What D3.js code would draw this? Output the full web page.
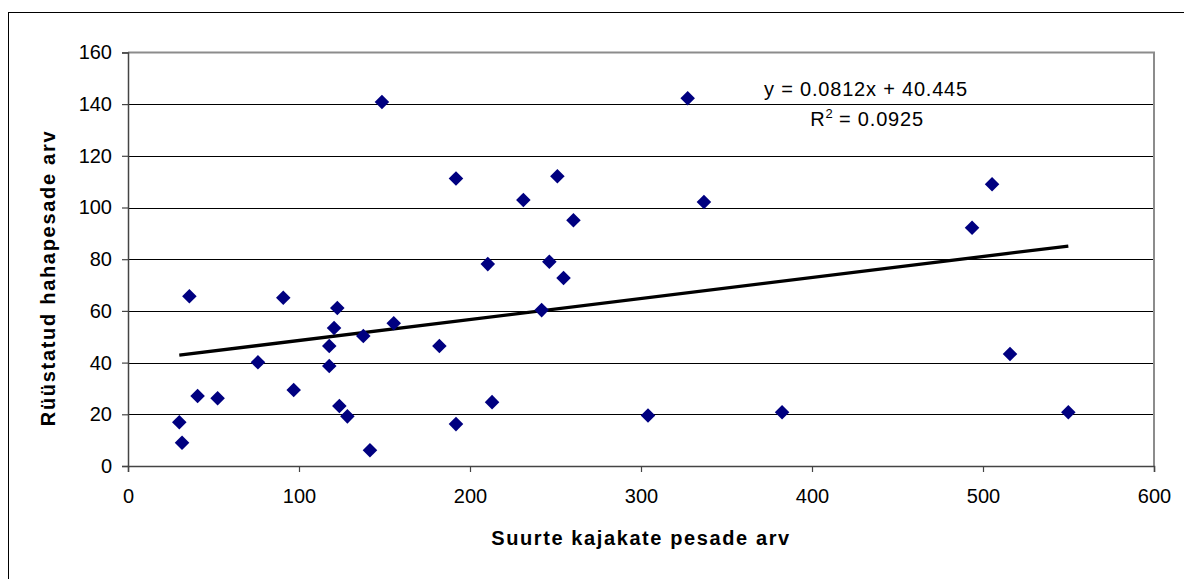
<!DOCTYPE html>
<html>
<head>
<meta charset="utf-8">
<script src="https://cdn.jsdelivr.net/npm/d3@7"></script>
<style>
    html, body { margin: 0; padding: 0; background: #fff; }
    svg { display: block; font-family: "Liberation Sans", Arial, sans-serif; }
    .tick text { font-size: 20px; fill: #000; }
</style>
</head>
<body>
<div id="chart"></div>
<script>
    "use strict"

    // x: large gull nests, y: plundered eider nests
    var gullNests  = [30, 31.6, 35.9, 40.7, 52.4, 76, 90.8, 96.9, 117.7, 117.7, 120.5, 122.4, 123.6, 128.3,
                      137.6, 141.5, 148.5, 155.4, 182.1, 191.8, 191.8, 210.4, 212.9, 231.2, 241.9, 246.4,
                      251.1, 254.7, 260.5, 304.1, 327.3, 336.8, 382.5, 493.6, 505.3, 515.8, 549.9]
    var eiderNests = [16.9, 9.0, 65.7, 27.1, 26.2, 40.1, 65.1, 29.4, 46.4, 38.7, 53.4, 61.1, 23.2, 19.2,
                      50.3, 6.1, 140.8, 55.2, 46.4, 111.2, 16.2, 78.1, 24.7, 102.9, 60.3, 79.0,
                      112.1, 72.7, 95.1, 19.5, 142.3, 102.1, 20.8, 92.2, 109.0, 43.3, 20.8]

    var xTicks = [0, 100, 200, 300, 400, 500, 600]
    var yTicks = [0, 20, 40, 60, 80, 100, 120, 140, 160]

    // linear trend as printed on the chart
    var trendSlope = 0.0812
    var trendIntercept = 40.445
    var trendLabel = "y = 0.0812x + 40.445"
    var r2Value = "0.0925"

    var xTitle = "Suurte kajakate pesade arv"
    var yTitle = "Rüüstatud hahapesade arv"

    var W = 1184, H = 579
    var plot = { left: 128, right: 1154, top: 52.4, bottom: 466 }

    var svg = d3.select("#chart").append("svg")
        .attr("width", W)
        .attr("height", H)

    // outer chart frame (runs off the right and bottom edge)
    svg.append("rect")
        .attr("x", 8.5).attr("y", 12.5)
        .attr("width", 1300).attr("height", 700)
        .attr("fill", "none")
        .attr("stroke", "#000")
        .attr("stroke-width", 1)

    var x = d3.scaleLinear().domain([0, 600]).range([plot.left, plot.right])
    var y = d3.scaleLinear().domain([0, 160]).range([plot.bottom, plot.top])

    // gridlines
    svg.append("g")
        .selectAll("line")
        .data(yTicks.filter(d => d > 0 && d < 160))
        .enter().append("line")
        .attr("x1", plot.left).attr("x2", plot.right)
        .attr("y1", d => Math.round(y(d)) + 0.5)
        .attr("y2", d => Math.round(y(d)) + 0.5)
        .attr("stroke", "#000")
        .attr("stroke-width", 1)

    // plot area border (top / right in grey)
    svg.append("path")
        .attr("d", `M${plot.left},${y(160)}H${plot.right}V${plot.bottom}`)
        .attr("fill", "none")
        .attr("stroke", "#8c8c8c")
        .attr("stroke-width", 2)

    // axes
    var xAxis = svg.append("g")
        .attr("transform", `translate(0,${plot.bottom})`)
        .call(d3.axisBottom(x).tickValues(xTicks).tickSize(6).tickPadding(17).tickFormat(d3.format("d")))
    var yAxis = svg.append("g")
        .attr("transform", `translate(${plot.left},0)`)
        .call(d3.axisLeft(y).tickValues(yTicks).tickSize(6).tickPadding(10).tickFormat(d3.format("d")))

    ;[xAxis, yAxis].forEach(function (ax) {
        ax.select(".domain").attr("stroke", "#444").attr("stroke-width", 1.5)
        ax.selectAll(".tick line").attr("stroke", "#444").attr("stroke-width", 1.2)
        ax.selectAll(".tick text").attr("fill", "#000")
    })

    // trend line over the data range
    var xExtent = d3.extent(gullNests)
    svg.append("path")
        .datum(xExtent)
        .attr("fill", "none")
        .attr("stroke", "#000")
        .attr("stroke-width", 3.3)
        .attr("d", d3.line()
            .x(d => x(d))
            .y(d => y(trendSlope * d + trendIntercept)))

    // markers
    var points = gullNests.map((g, i) => ({ gull: g, eider: eiderNests[i] }))
    svg.append("g")
        .selectAll("path")
        .data(points)
        .enter().append("path")
        .attr("transform", d => `translate(${x(d.gull)},${y(d.eider)})`)
        .attr("d", d3.symbol().type(d3.symbolDiamond2).size(135))
        .attr("fill", "#000080")

    // equation label
    var eq = svg.append("g").attr("font-size", 20).attr("fill", "#000").attr("text-anchor", "middle")
    eq.append("text")
        .attr("x", 866).attr("y", 96)
        .style("letter-spacing", "0.8px")
        .text(trendLabel)
    var r2 = eq.append("text")
        .attr("x", 867).attr("y", 126)
        .style("letter-spacing", "0.8px")
    r2.append("tspan").text("R")
    r2.append("tspan").attr("font-size", 13).attr("dy", -8).style("letter-spacing", "0px").text("2")
    r2.append("tspan").attr("dy", 8).text(" = " + r2Value)

    // axis titles
    svg.append("text")
        .attr("x", (plot.left + plot.right) / 2)
        .attr("y", 545)
        .attr("text-anchor", "middle")
        .attr("font-size", 20)
        .attr("font-weight", "bold")
        .style("letter-spacing", "1.6px")
        .text(xTitle)

    svg.append("text")
        .attr("transform", "translate(55,278) rotate(-90)")
        .attr("text-anchor", "middle")
        .attr("font-size", 20)
        .attr("font-weight", "bold")
        .style("letter-spacing", "1.7px")
        .text(yTitle)
</script>
</body>
</html>
